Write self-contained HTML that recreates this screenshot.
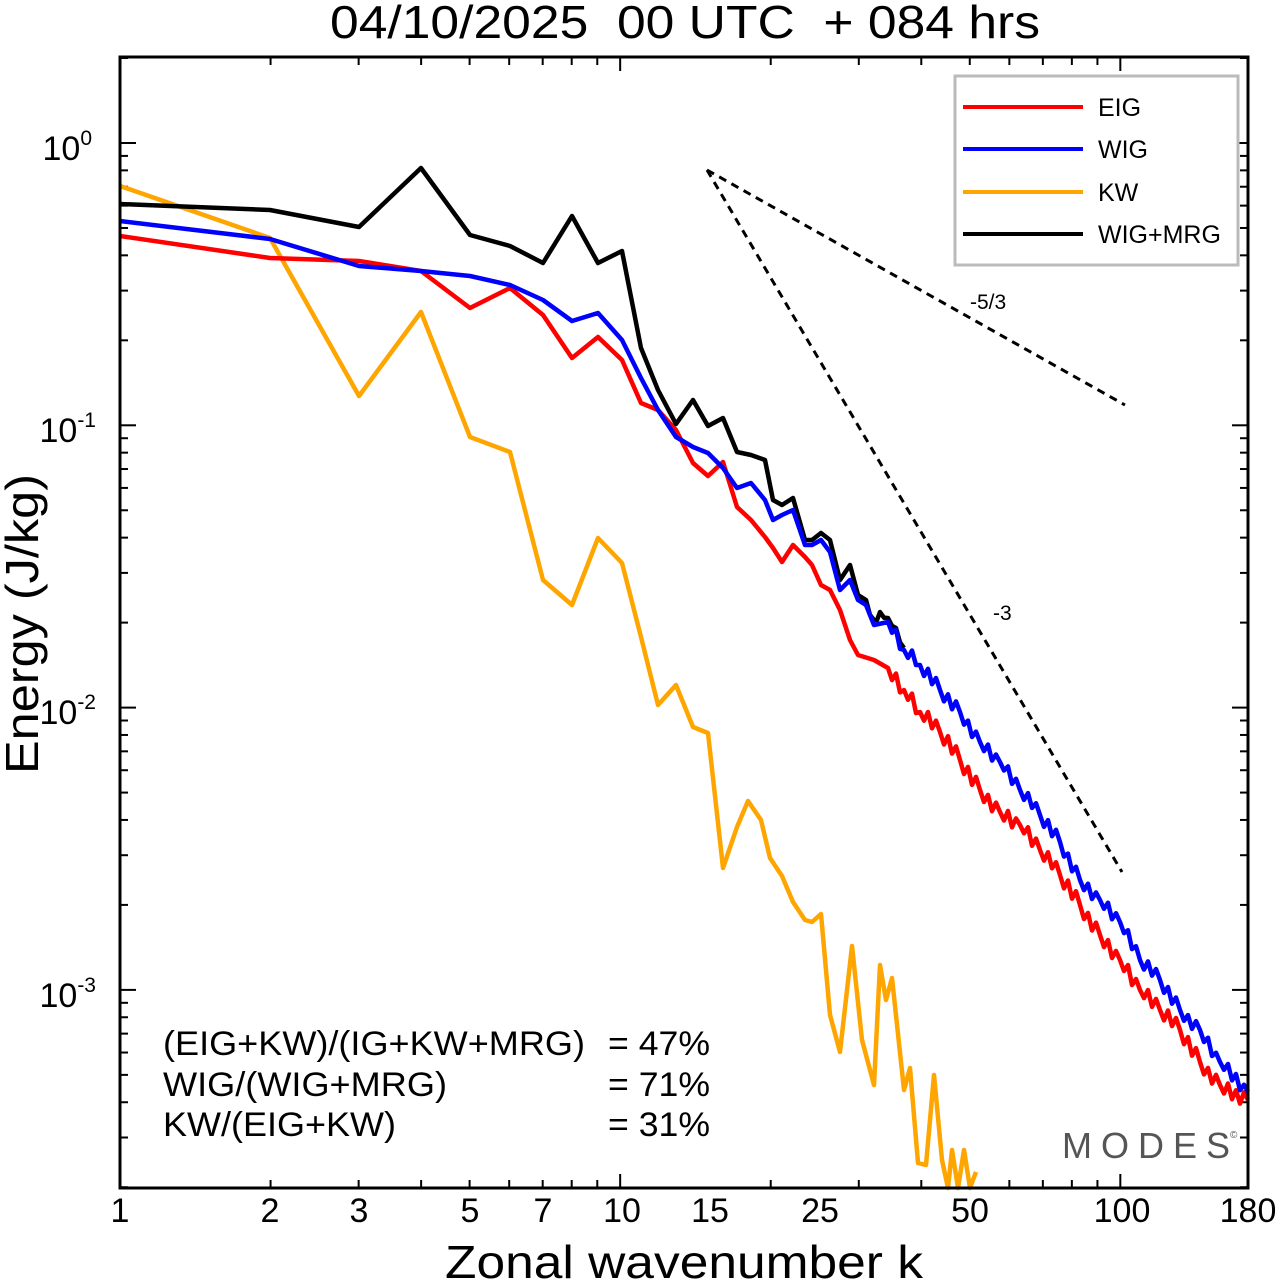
<!DOCTYPE html>
<html><head><meta charset="utf-8"><style>
body{margin:0;background:#fff;}
svg{display:block;font-family:"Liberation Sans",Arial,sans-serif;}
</style></head><body>
<svg id="s" width="1280" height="1281" viewBox="0 0 1280 1281" xmlns="http://www.w3.org/2000/svg">
<rect width="1280" height="1281" fill="#fff"/>
<text x="330" y="38" font-size="46" textLength="710" lengthAdjust="spacingAndGlyphs" xml:space="preserve">04/10/2025  00 UTC  + 084 hrs</text>
<g id="ticks" stroke="#000" stroke-width="2"></g>
<g id="lines" fill="none" stroke-width="4.5" stroke-linejoin="round"></g>
<line x1="707" y1="170" x2="1125" y2="405" stroke="#000" stroke-width="3" stroke-dasharray="8,6"/>
<line x1="707" y1="170" x2="1122" y2="872" stroke="#000" stroke-width="3" stroke-dasharray="8,6"/>
<text x="970" y="309" font-size="21">-5/3</text>
<text x="993" y="620" font-size="21">-3</text>
<rect x="120" y="57" width="1128" height="1131" fill="none" stroke="#000" stroke-width="3"/>
<rect x="955" y="76" width="283" height="189" fill="#fff" stroke="#bbb" stroke-width="3"/>
<g stroke-width="4">
<line x1="963" y1="107" x2="1083" y2="107" stroke="#f00"/>
<line x1="963" y1="149" x2="1083" y2="149" stroke="#00f"/>
<line x1="963" y1="192" x2="1083" y2="192" stroke="#ffa500"/>
<line x1="963" y1="234" x2="1083" y2="234" stroke="#000"/>
</g>
<g font-size="25">
<text x="1098" y="116">EIG</text><text x="1098" y="158">WIG</text>
<text x="1098" y="201">KW</text><text x="1098" y="243">WIG+MRG</text>
</g>
<g font-size="34">
<text x="163" y="1055" textLength="422" lengthAdjust="spacingAndGlyphs">(EIG+KW)/(IG+KW+MRG)</text><text x="608" y="1055" textLength="102" lengthAdjust="spacingAndGlyphs">= 47%</text>
<text x="163" y="1096" textLength="284" lengthAdjust="spacingAndGlyphs">WIG/(WIG+MRG)</text><text x="608" y="1096" textLength="102" lengthAdjust="spacingAndGlyphs">= 71%</text>
<text x="163" y="1136" textLength="233" lengthAdjust="spacingAndGlyphs">KW/(EIG+KW)</text><text x="608" y="1136" textLength="102" lengthAdjust="spacingAndGlyphs">= 31%</text>
</g>
<text x="1062" y="1158" font-size="36" fill="#555" letter-spacing="9">MODES</text>
<text x="1230" y="1138" font-size="10" fill="#555">©</text>
<g font-size="34" text-anchor="middle">
<text x="120" y="1222">1</text><text x="270" y="1222">2</text><text x="359" y="1222">3</text>
<text x="470" y="1222">5</text><text x="543" y="1222">7</text><text x="622" y="1222">10</text>
<text x="710" y="1222">15</text><text x="820" y="1222">25</text><text x="970" y="1222">50</text>
<text x="1122" y="1222">100</text><text x="1248" y="1222">180</text>
</g>
<text x="684" y="1278" font-size="46" text-anchor="middle" textLength="478" lengthAdjust="spacingAndGlyphs">Zonal wavenumber k</text>
<text transform="translate(38,624) rotate(-90)" font-size="46" text-anchor="middle" textLength="300" lengthAdjust="spacingAndGlyphs">Energy (J/kg)</text>
<g font-size="34" text-anchor="end">
<text x="92" y="160">10<tspan font-size="21" dy="-15">0</tspan></text>
<text x="96" y="442">10<tspan font-size="21" dy="-15">-1</tspan></text>
<text x="96" y="724">10<tspan font-size="21" dy="-15">-2</tspan></text>
<text x="96" y="1007">10<tspan font-size="21" dy="-15">-3</tspan></text>
</g>
</svg>
<script>
var NS="http://www.w3.org/2000/svg";
function X(k){return 120+1128*Math.log10(k)/Math.log10(180);}
function Y(e){return 143-282.3*Math.log10(e);}
var t=document.getElementById("ticks"),h="";
function L(a,b,c,d){h+='<line x1="'+a+'" y1="'+b+'" x2="'+c+'" y2="'+d+'"/>';}
[1,2,3,4,5,6,7,8,9,10,20,30,40,50,60,70,80,90,100].forEach(function(k){var x=X(k);var l=(k==1||k==10||k==100)?14:8;L(x,1188,x,1188-l);L(x,57,x,57+l);});
for(var d=-4;d<=0;d++)for(var m=1;m<10;m++){var y=Y(m*Math.pow(10,d));if(y<57||y>1188)continue;var l=m==1?16:8;L(120,y,120+l,y);L(1248,y,1248-l,y);}
t.innerHTML=h;
function jag(pts,from,amp){var o=[];for(var i=0;i<pts.length-1;i++){var a=pts[i],b=pts[i+1];o.push(a);if(a[0]>=from){var n=Math.max(1,Math.round((b[0]-a[0])/4));for(var j=1;j<n;j++){var f=j/n;o.push([a[0]+(b[0]-a[0])*f,a[1]+(b[1]-a[1])*f+((j%2)?amp:-amp)*(0.4+0.6*Math.abs(Math.sin(i*3.7+j*1.3)))]);}}}o.push(pts[pts.length-1]);return o;}
var black=[[120,204],[270,210],[359,227],[421,168],[470,235],[510,246],[543,263],[572,216],[598,263],[622,251],[641,348],[658,390],[676,424],[693,400],[708,426],[723,418],[737,452],[751,455],[765,460],[773,500],[782,505],[793,498],[805,540],[812,540],[821,533],[830,540],[840,580],[850,565],[858,595],[866,600],[874,620],[880,612],[888,618],[896,628],[904,648]];
var blue=[[120,221],[270,239],[359,266],[421,271],[470,276],[510,285],[543,300],[572,321],[598,313],[622,340],[641,378],[658,410],[676,437],[693,447],[708,453],[723,468],[737,488],[751,483],[765,500],[773,520],[782,515],[793,510],[805,545],[812,545],[821,540],[830,552],[840,590],[850,580],[858,600],[866,605],[874,625],[888,622],[904,650],[920,665],[940,690],[960,712],[980,742],[1000,762],[1020,790],[1040,815],[1060,842],[1080,880],[1100,900],[1120,922],[1140,960],[1160,980],[1180,1010],[1200,1030],[1220,1062],[1248,1092]];
var red=[[120,236],[270,258],[359,261],[421,271],[470,308],[510,288],[543,315],[572,358],[598,337],[622,360],[641,403],[658,410],[676,430],[693,463],[708,476],[723,462],[737,507],[751,520],[765,537],[773,548],[782,562],[793,545],[805,557],[812,565],[821,585],[830,590],[840,610],[850,640],[858,655],[874,660],[888,668],[904,690],[920,712],[940,732],[960,760],[980,790],[1000,812],[1020,825],[1040,850],[1060,875],[1080,905],[1100,935],[1120,960],[1140,990],[1160,1010],[1180,1030],[1200,1062],[1220,1085],[1248,1100]];
var orange=[[120,186],[270,238],[359,396],[421,312],[470,437],[510,452],[543,580],[572,605],[598,538],[622,563],[641,637],[658,705],[676,685],[693,727],[708,733],[723,868],[737,827],[748,801],[761,820],[770,858],[782,876],[793,902],[805,920],[812,922],[821,914],[830,1015],[840,1052],[852,946],[862,1040],[874,1085],[880,965],[886,1000],[892,978],[904,1090],[910,1068],[918,1163],[926,1165],[934,1075],[942,1160],[948,1188],[952,1150],[958,1188],[964,1150],[970,1188],[976,1172]];
var g=document.getElementById("lines");
function draw(p,c){var e=document.createElementNS(NS,"polyline");e.setAttribute("points",p.map(function(q){return q[0].toFixed(1)+","+q[1].toFixed(1)}).join(" "));e.setAttribute("stroke",c);g.appendChild(e);}
draw(orange,"#ffa500");
draw(jag(red,880,8),"#f00");
draw(jag(black,860,5),"#000");
draw(jag(blue,880,7),"#00f");
</script>
</body></html>
